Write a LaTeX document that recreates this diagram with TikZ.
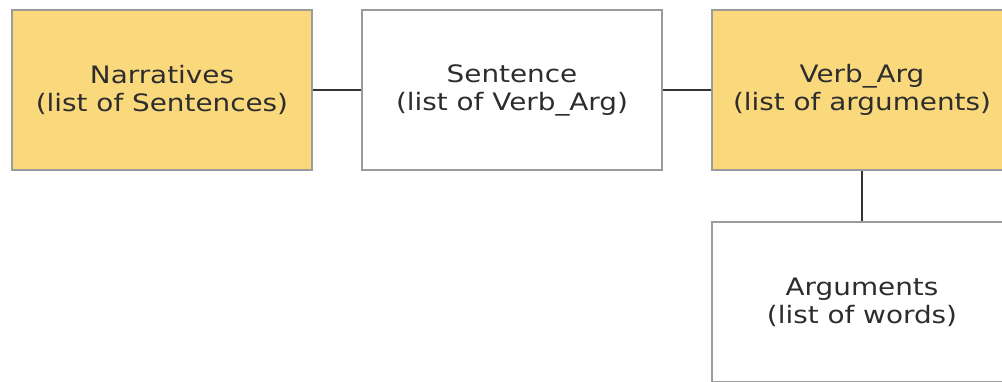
\documentclass[tikz,border=0pt]{standalone}
\usepackage{fontspec}
\newfontfamily\boxfont[FakeStretch=1.16]{DejaVu Sans}
\definecolor{boxgold}{RGB}{250,216,124}
\definecolor{boxedge}{RGB}{155,155,155}
\definecolor{linkink}{RGB}{51,51,51}
\definecolor{textink}{RGB}{45,45,45}
\tikzset{
  entity/.style={draw=boxedge, line width=1.6pt, fill=white,
    minimum width=300pt, minimum height=160pt, inner sep=0pt,
    align=center, text=textink,
    font=\boxfont\fontsize{24}{28}\selectfont},
  gold/.style={fill=boxgold},
  link/.style={draw=linkink, line width=1.5pt}
}
\begin{document}
\begin{tikzpicture}[x=1pt, y=-1pt]
  \useasboundingbox (0,0) rectangle (1002,382);
  \clip (0,0) rectangle (1002,382);
  \node[entity, gold] (nar) at (162,90) {Narratives\\(list of Sentences)};
  \node[entity] (sen) at (512,90) {Sentence\\(list of Verb\_Arg)};
  \node[entity, gold] (verb) at (862,90) {Verb\_Arg\\(list of arguments)};
  \node[entity] (args) at (862,302) {Arguments\\(list of words)};
  \draw[link] (nar.east) -- (sen.west);
  \draw[link] (sen.east) -- (verb.west);
  \draw[link] (verb.south) -- (args.north);
\end{tikzpicture}
\end{document}
